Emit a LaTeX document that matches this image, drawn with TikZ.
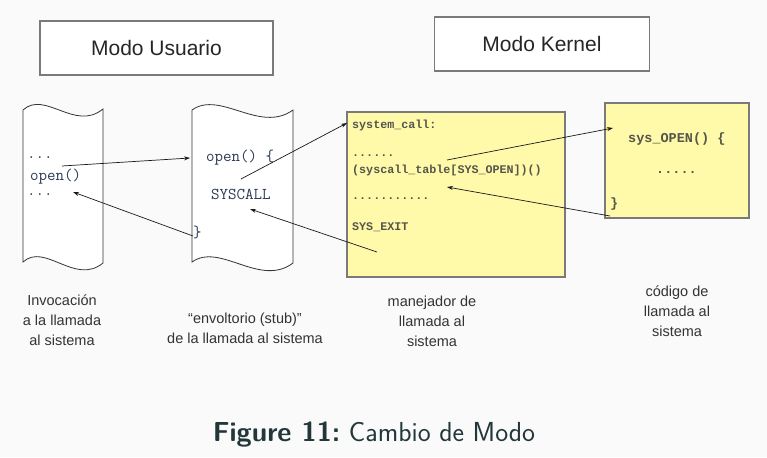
\documentclass[tikz,border=0pt]{standalone}
\usepackage{fontspec}
\usetikzlibrary{arrows.meta}
\newfontfamily\helv{Liberation Sans}
\newfontfamily\cour{Liberation Mono}
\definecolor{bgc}{HTML}{FAFAFA}
\definecolor{yel}{HTML}{FFFAAA}
\definecolor{boxline}{HTML}{7A7A7A}
\definecolor{codeblue}{HTML}{2B3A55}
\definecolor{codegray}{HTML}{55554A}
\definecolor{labc}{HTML}{333333}
\definecolor{capc}{HTML}{23373B}
\tikzset{
  modebox/.style={draw=boxline, line width=1.1pt, fill=white, font=\helv\fontsize{21}{24}\selectfont, text=black!85},
  scrollline/.style={draw=black!80, line width=0.8pt, fill=white},
  yelbox/.style={draw=boxline, line width=1.1pt, fill=yel},
  ucode/.style={font=\ttfamily\fontsize{16.5}{18}\selectfont, text=codeblue, inner sep=0pt},
  kcode/.style={font=\cour\bfseries\fontsize{11.7}{13}\selectfont, text=codegray, inner sep=0pt, anchor=west},
  ocode/.style={font=\cour\bfseries\fontsize{13.5}{15}\selectfont, text=codegray, inner sep=0pt},
  lab/.style={font=\helv\fontsize{14.5}{20}\selectfont, text=labc, align=center, inner sep=0pt},
  arr/.style={-{Stealth[length=6pt,width=4pt]}, line width=0.7pt, black!90},
}
\begin{document}
\begin{tikzpicture}[x=1pt,y=-1pt]
\useasboundingbox[fill=bgc] (0,0) rectangle (767,457);
% mode boxes
\node[modebox, minimum width=233pt, minimum height=54pt] (mu) at (156.5,48) {Modo Usuario};
\node[modebox, minimum width=215pt, minimum height=54pt] (mk) at (542,44) {Modo Kernel};
% scrolls
\path[scrollline] (23,110) .. controls (45,90) and (75,132) .. (103,109)
  -- (103,263) .. controls (75,286) and (45,242) .. (23,262) -- cycle;
\path[scrollline] (192,110) .. controls (220,90) and (260,134) .. (293,110)
  -- (293,263) .. controls (260,288) and (220,242) .. (192,262) -- cycle;
% left scroll text
\node[ucode, anchor=west] (d1) at (27,158) {...};
\node[ucode, anchor=west] (op) at (30,177) {open()};
\node[ucode, anchor=west] (d2) at (27,195) {...};
% middle scroll text
\node[ucode, anchor=west] (op2) at (206,158) {open() \{};
\node[ucode, anchor=west] (sc) at (211,194) {SYSCALL};
\node[ucode, anchor=west] (cb) at (193,232) {\}};
% handler box
\node[yelbox, minimum width=218pt, minimum height=165pt] (hb) at (456,194.5) {};
\node[kcode] (k1) at (352,125) {system\_call:};
\node[kcode] (k2) at (352,156) {......};
\node[kcode] (k3) at (352,170) {(syscall\_table[SYS\_OPEN])()};
\node[kcode] (k4) at (352,199) {...........};
\node[kcode] (k5) at (352,227) {SYS\_EXIT};
% sys_open box
\node[yelbox, minimum width=144pt, minimum height=115pt] (ob) at (677,160.5) {};
\node[ocode, anchor=west] (o1) at (628,139) {sys\_OPEN() \{};
\node[ocode, anchor=west] (o2) at (656,172) {.....};
\node[ocode, anchor=west] (o3) at (610,204) {\}};
% arrow endpoints
\coordinate (a1s) at (62,166);
\coordinate (a1e) at (190,158);
\coordinate (a2s) at (193,236);
\coordinate (a2e) at (73,192);
\coordinate (a3s) at (241,179);
\coordinate (a3e) at (347,123);
\coordinate (a4s) at (377,252);
\coordinate (a4e) at (250,209);
\coordinate (a5s) at (447,160);
\coordinate (a5e) at (613,128);
\coordinate (a6s) at (610,216);
\coordinate (a6e) at (447,187);
\draw[arr] (a1s) -- (a1e);
\draw[arr] (a2s) -- (a2e);
\draw[arr] (a3s) -- (a3e);
\draw[arr] (a4s) -- (a4e);
\draw[arr] (a5s) -- (a5e);
\draw[arr] (a6s) -- (a6e);
% labels
\node[lab] (l1) at (62,320) {Invocación\\a la llamada\\al sistema};
\node[lab] (l2) at (245,328) {“envoltorio (stub)”\\de la llamada al sistema};
\node[lab] (l3) at (432,321) {manejador de\\llamada al\\sistema};
\node[lab] (l4) at (677,311) {código de\\llamada al\\sistema};
% caption
\node[font=\sffamily\fontsize{27.5}{30}\selectfont, text=capc, inner sep=0pt] (cap) at (374,434) {\textbf{Figure 11:}\ Cambio de Modo};
\end{tikzpicture}
\end{document}
